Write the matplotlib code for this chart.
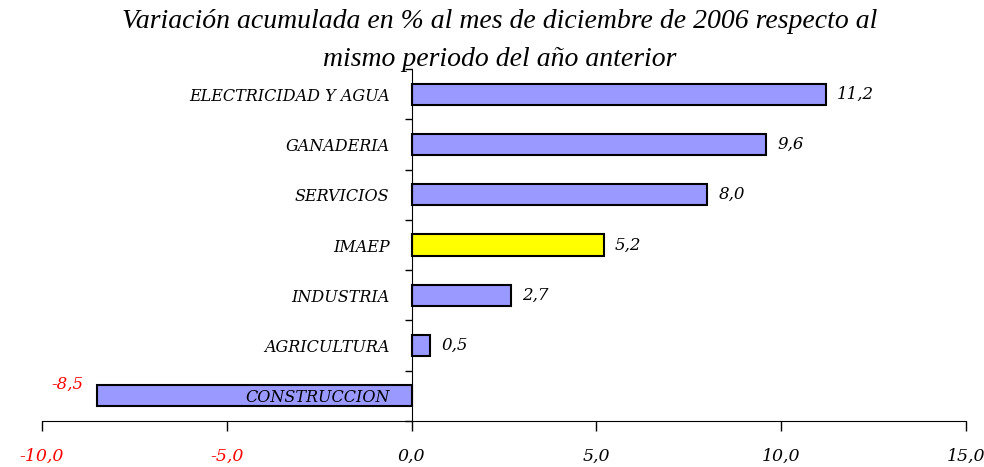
import matplotlib.pyplot as plt
import numpy as np

categories = ["CONSTRUCCION", "AGRICULTURA", "INDUSTRIA", "IMAEP",
              "SERVICIOS", "GANADERIA", "ELECTRICIDAD Y AGUA"]
values = [-8.5, 0.5, 2.7, 5.2, 8.0, 9.6, 11.2]
highlight = "IMAEP"
xticks = [-10, -5, 0, 5, 10, 15]

BLUE = "#9999FF"
YELLOW = "#FFFF00"
FONT = "Liberation Serif"
WIDE = "DejaVu Serif"


def fmt(v):
    return f"{v:.1f}".replace(".", ",")


fig = plt.figure(figsize=(9.84, 4.67), dpi=100)
ax = fig.add_axes([42 / 984, 1 - 421 / 467, 924 / 984, 352 / 467])

y = np.arange(len(categories))
colors = [YELLOW if c == highlight else BLUE for c in categories]
# zorder below the axis so the CONSTRUCCION label sits on top of its bar
ax.barh(y, values, height=0.42, color=colors, edgecolor="black", linewidth=1.5, zorder=1)

for yi, v in zip(y, values):
    if v < 0:
        ax.annotate(fmt(v), (v, yi), xytext=(-10, 8), textcoords="offset points",
                    ha="right", va="center", color="red", fontsize=12,
                    family=WIDE, style="italic")
    else:
        ax.annotate(fmt(v), (v, yi), xytext=(8, 0), textcoords="offset points",
                    ha="left", va="center", color="black", fontsize=12,
                    family=WIDE, style="italic")

ax.set_xlim(-10, 15)
ax.set_ylim(-0.5, len(categories) - 0.5)

ax.spines["top"].set_visible(False)
ax.spines["right"].set_visible(False)
ax.spines["left"].set_position(("data", 0))
ax.spines["left"].set_zorder(3)
ax.yaxis.set_zorder(2)

ax.set_xticks(xticks)
ax.set_xticklabels([fmt(t) for t in xticks], family=WIDE, style="italic", fontsize=12.5)
for lbl, t in zip(ax.get_xticklabels(), xticks):
    if t < 0:
        lbl.set_color("red")
ax.tick_params(axis="x", direction="out", length=7, width=1, pad=12)

# ticks at category boundaries, labels at the centers
ax.set_yticks(np.arange(len(categories) + 1) - 0.5)
ax.set_yticklabels([])
ax.set_yticks(y, minor=True)
ax.set_yticklabels(categories, minor=True, family=WIDE, style="italic", fontsize=11.5)
ax.tick_params(axis="y", which="major", direction="out", length=5, width=1)
ax.tick_params(axis="y", which="minor", length=0, pad=16)

fig.text(0.508, 0.953, "Variación acumulada en % al mes de diciembre de 2006 respecto al",
         ha="center", va="center", family=FONT, style="italic", fontsize=20)
fig.text(0.508, 0.872, "mismo periodo del año anterior",
         ha="center", va="center", family=FONT, style="italic", fontsize=20)

fig.savefig("out.png", dpi=100)
